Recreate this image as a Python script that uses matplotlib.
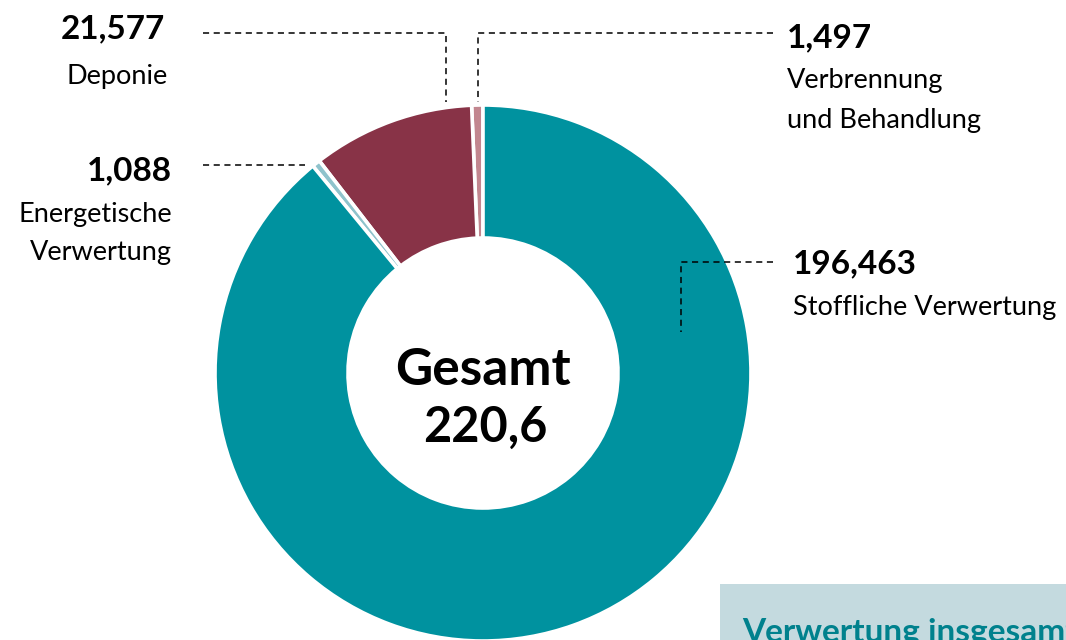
import matplotlib.pyplot as plt

# Abfallmengen in Mio. t (von 12 Uhr aus gegen den Uhrzeigersinn)
kategorien = ["Verbrennung\nund Behandlung", "Deponie",
              "Energetische\nVerwertung", "Stoffliche Verwertung"]
werte = [1.497, 21.577, 1.088, 196.463]
werte_text = ["1,497", "21,577", "1,088", "196,463"]
farben = ["#c2868f", "#883347", "#8fc3cc", "#00929f"]
gesamt_text = "220,6"

plt.rcParams['font.family'] = ['Lato', 'DejaVu Sans']

W, H = 1066, 640
fig = plt.figure(figsize=(W / 100, H / 100), dpi=100)
ax = fig.add_axes([0, 0, 1, 1])

# Pixelkoordinaten, y von oben gemessen -> umrechnen
def py(y):
    return H - y

ax.pie(werte, colors=farben, startangle=90, counterclock=True,
       center=(483, py(373)), radius=268,
       wedgeprops=dict(width=133, edgecolor='white', linewidth=2.6))

ax.set_xlim(0, W)
ax.set_ylim(0, H)
ax.set_aspect('equal')
ax.axis('off')

# Mitte
ax.text(483, py(385), "Gesamt", ha='center', va='baseline',
        fontsize=37, fontweight='bold', color='black')
ax.text(485, py(442), gesamt_text, ha='center', va='baseline',
        fontsize=35, fontweight='bold', color='black')

lstyle = dict(color='black', linewidth=1.1, linestyle=(0, (4, 3)))
fs_num = 24
fs_lab = 19.5

# Deponie (links oben)
ax.plot([203, 446, 446], [py(33), py(33), py(102)], **lstyle)
ax.text(165, py(38), werte_text[1], ha='right', va='baseline',
        fontsize=fs_num, fontweight='bold')
ax.text(168, py(84), kategorien[1], ha='right', va='baseline', fontsize=fs_lab)

# Energetische Verwertung
ax.plot([203, 305], [py(165), py(165)], **lstyle)
ax.text(172, py(180), werte_text[2], ha='right', va='baseline',
        fontsize=fs_num, fontweight='bold')
ax.text(172, py(222), "Energetische", ha='right', va='baseline', fontsize=fs_lab)
ax.text(172, py(260), "Verwertung", ha='right', va='baseline', fontsize=fs_lab)

# Verbrennung und Behandlung
ax.plot([773, 478, 478], [py(33), py(33), py(102)], **lstyle)
ax.text(787, py(47), werte_text[0], ha='left', va='baseline',
        fontsize=fs_num, fontweight='bold')
ax.text(787, py(88), "Verbrennung", ha='left', va='baseline', fontsize=fs_lab)
ax.text(787, py(128), "und Behandlung", ha='left', va='baseline', fontsize=fs_lab)

# Stoffliche Verwertung
ax.plot([773, 681, 681], [py(262), py(262), py(332)], **lstyle)
ax.text(793, py(273), werte_text[3], ha='left', va='baseline',
        fontsize=fs_num, fontweight='bold')
ax.text(793, py(315), kategorien[3], ha='left', va='baseline', fontsize=fs_lab)

# angeschnittener Kasten unten rechts
ax.add_patch(plt.Rectangle((720, py(640) - 5), 400, 640 - 584 + 5,
                           facecolor='#c4dadf', edgecolor='none',
                           clip_on=False))
ax.text(742, py(642), "Verwertung insgesamt", ha='left', va='baseline',
        fontsize=24, fontweight='bold', color='#00818d', clip_on=False)

fig.savefig("out.png", dpi=100)
